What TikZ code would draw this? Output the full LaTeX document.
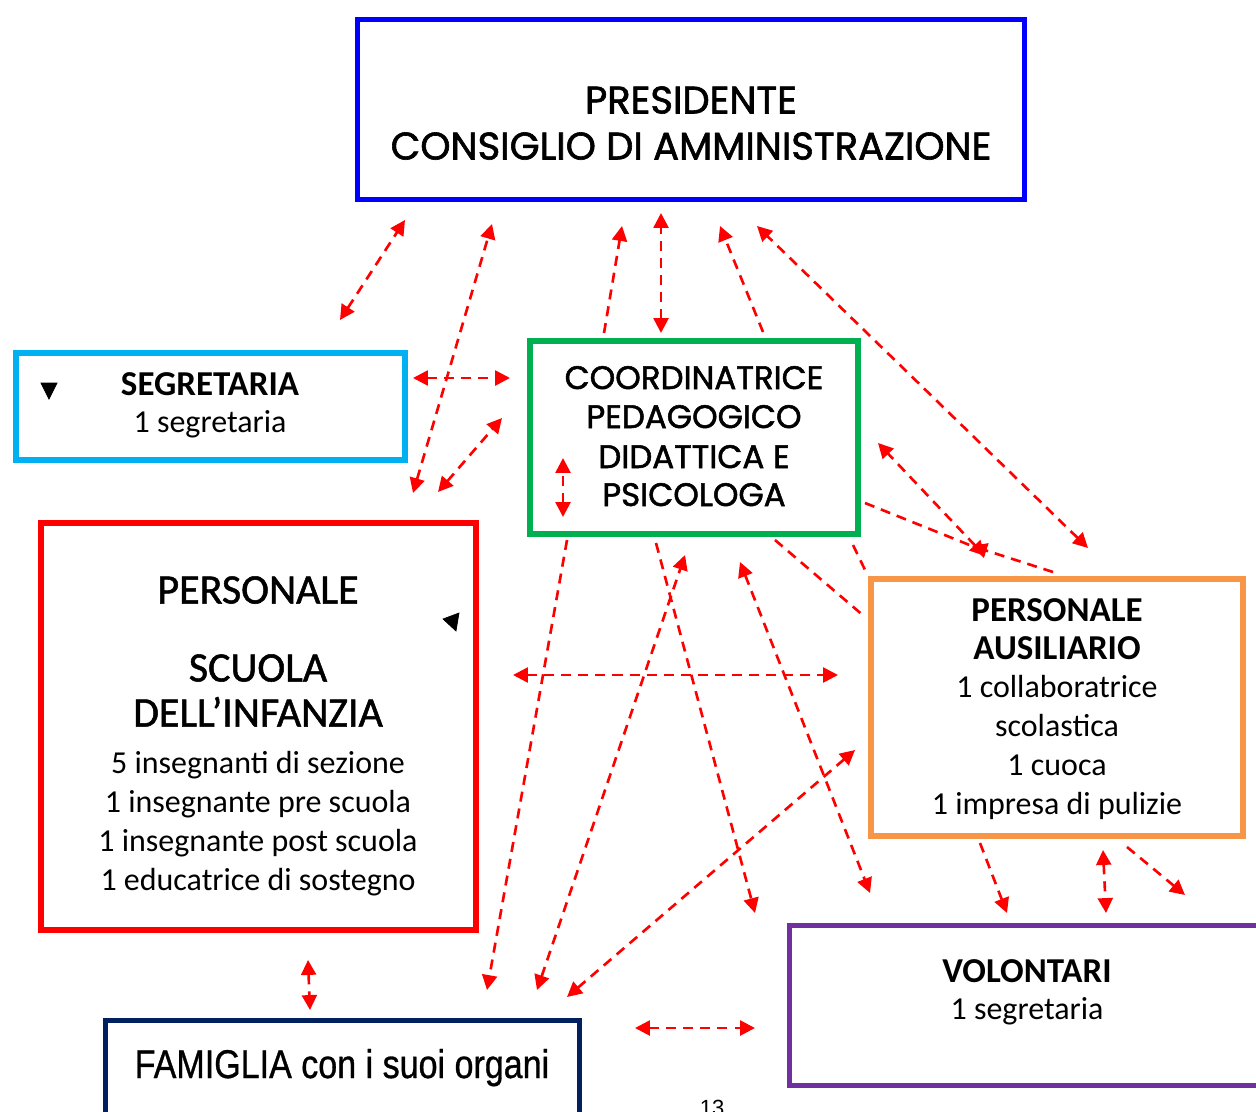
\documentclass[tikz,border=0pt]{standalone}
\usepackage{fontspec}
\setmainfont{Carlito}
\newfontfamily\gothic[FakeBold=1.6]{Poppins}
\newfontfamily\heavy[FakeBold=1.2]{Carlito}
\newfontfamily\narrow[FakeStretch=0.85,FakeBold=0.8]{Liberation Sans}
\newfontfamily\plainsans{Liberation Sans}
\usetikzlibrary{arrows.meta}

\definecolor{bluepres}{RGB}{0,0,255}
\definecolor{cyansegr}{RGB}{0,176,240}
\definecolor{greencoord}{RGB}{0,176,80}
\definecolor{redpers}{RGB}{255,0,0}
\definecolor{orangeausi}{RGB}{247,150,70}
\definecolor{purplevol}{RGB}{112,48,160}
\definecolor{navyfam}{RGB}{0,32,96}

\tikzset{
	box/.style={draw, line width=3.4pt, inner sep=0pt},
	link/.style={draw=red, line width=1.5pt, dash pattern=on 5.7pt off 4pt,
		>={Triangle[length=8.5pt,width=8.5pt]}},
	title/.style={font=\gothic\fontsize{21.9}{24}\selectfont, anchor=base},
	subtitle/.style={font=\gothic\fontsize{18.5}{21}\selectfont, anchor=base},
	head/.style={font=\heavy\fontsize{23.9}{28}\selectfont, anchor=base},
	boldhead/.style={font=\bfseries\fontsize{19.9}{24}\selectfont, anchor=base},
	body/.style={font=\fontsize{18.2}{22}\selectfont, anchor=base}
}

\begin{document}
\begin{tikzpicture}[x=0.02cm, y=-0.02cm]

	\useasboundingbox (0,0) rectangle (1256,1111);
	\clip (0,0) rectangle (1256,1111);

	\def\thin{2.9pt};

	% boxes
	\node[box, draw=bluepres, line width=\thin, minimum width=13.34cm, minimum height=3.6cm] (pres) at (691,109.5) {};
	\node[box, draw=cyansegr, minimum width=7.78cm, minimum height=2.14cm] (segr) at (210.5,406.5) {};
	\node[box, draw=greencoord, minimum width=6.56cm, minimum height=3.86cm] (coord) at (694,437.5) {};
	\node[box, draw=redpers, minimum width=8.7cm, minimum height=8.14cm] (pers) at (258.5,726.5) {};
	\node[box, draw=orangeausi, minimum width=7.44cm, minimum height=5.14cm] (ausi) at (1057,707.5) {};
	\node[box, draw=purplevol, line width=\thin, minimum width=9.62cm, minimum height=3.2cm] (vol) at (1030,1005.5) {};
	\node[box, draw=navyfam, line width=\thin, minimum width=9.48cm, minimum height=2.38cm] (fam) at (342.5,1080) {};

	% texts
	\foreach \t/\y [count=\i] in {PRESIDENTE/113.5, CONSIGLIO DI AMMINISTRAZIONE/159.5}
		\node[title] (pres-\i) at (691,\y) {\t};

	\foreach \t/\y [count=\i] in {COORDINATRICE/389, PEDAGOGICO/428, DIDATTICA E/468, PSICOLOGA/506}
		\node[subtitle] (coord-\i) at (694,\y) {\t};

	\node[boldhead] (segr-1) at (210,395) {SEGRETARIA};
	\node[body] (segr-2) at (210,432) {1 segretaria};

	\foreach \t/\y [count=\i] in {PERSONALE/603.5, SCUOLA/681.5, DELL’INFANZIA/726.5}
		\node[head] (pers-h\i) at (258,\y) {\t};
	\foreach \t/\y [count=\i] in {5 insegnanti di sezione/773, 1 insegnante pre scuola/812,
		1 insegnante post scuola/851, 1 educatrice di sostegno/890}
		\node[body] (pers-\i) at (258,\y) {\t};

	\foreach \t/\y [count=\i] in {PERSONALE/621, AUSILIARIO/659}
		\node[boldhead] (ausi-h\i) at (1057,\y) {\t};
	\foreach \t/\y [count=\i] in {1 collaboratrice/697, scolastica/736, 1 cuoca/775, 1 impresa di pulizie/814}
		\node[body] (ausi-\i) at (1057,\y) {\t};

	\node[boldhead] (vol-1) at (1027,982) {VOLONTARI};
	\node[body] (vol-2) at (1027,1019) {1 segretaria};

	\node[anchor=base, font=\narrow\fontsize{22.8}{26}\selectfont] (fam-1) at (342,1078) {FAMIGLIA con i suoi organi};

	\node[anchor=base, font=\plainsans\fontsize{12.5}{14}\selectfont] (pagenum) at (712,1115) {13};

	% small marks
	\filldraw[fill=black] (41,383) -- (57,383) -- (49,399) -- cycle;
	\filldraw[fill=black] (443,619) -- (459,613) -- (456,631) -- cycle;

	% arrow ends
	\coordinate (s1) at (340,320);   \coordinate (t1) at (405,220);
	\coordinate (s2) at (413,493);   \coordinate (t2) at (492,224);
	\coordinate (s3) at (604,333);   \coordinate (t3) at (622,226);
	\coordinate (s4) at (661,333);   \coordinate (t4) at (661,213);
	\coordinate (s5) at (763,332);   \coordinate (t5) at (720,226);
	\coordinate (s6) at (1088,548);  \coordinate (t6) at (757,226);
	\coordinate (s7) at (413,378);   \coordinate (t7) at (510,378);
	\coordinate (s8) at (438,492);   \coordinate (t8) at (502,418);
	\coordinate (s9) at (563,517);   \coordinate (t9) at (563,458);
	\coordinate (s10) at (985,556);  \coordinate (t10) at (878,443);
	\coordinate (s11) at (1053,572); \coordinate (t11) at (972,546);
	\coordinate (u11) at (865,503);
	\coordinate (s12) at (775,540);  \coordinate (t12) at (865,617);
	\coordinate (u12) at (853,545);  \coordinate (v12) at (866,572);
	\coordinate (s13) at (567,540);  \coordinate (t13) at (487,990);
	\coordinate (s14) at (537,990);  \coordinate (t14) at (685,555);
	\coordinate (s15) at (656,543);  \coordinate (t15) at (755,913);
	\coordinate (s16) at (740,562);  \coordinate (t16) at (870,893);
	\coordinate (s17) at (513,675);  \coordinate (t17) at (838,675);
	\coordinate (s18) at (567,997);  \coordinate (t18) at (855,750);
	\coordinate (s19) at (308,960);  \coordinate (t19) at (310,1010);
	\coordinate (s20) at (635,1028); \coordinate (t20) at (755,1028);
	\coordinate (s21) at (980,843);  \coordinate (t21) at (1007,913);
	\coordinate (s22) at (1103,850); \coordinate (t22) at (1106,913);
	\coordinate (s23) at (1127,847); \coordinate (t23) at (1185,895);

	% connectors
	\draw[link,<->] (s1) -- (t1);
	\draw[link,<->] (s2) -- (t2);
	\draw[link,->] (s3) -- (t3);
	\draw[link,<->] (s4) -- (t4);
	\draw[link,->] (s5) -- (t5);
	\draw[link,<->] (s6) -- (t6);
	\draw[link,<->] (s7) -- (t7);
	\draw[link,<->] (s8) -- (t8);
	\draw[link,<->] (s9) -- (t9);
	\draw[link,<->] (s10) -- (t10);
	\draw[link,->] (s11) -- (t11);
	\draw[link] (u11) -- (t11);
	\draw[link] (s12) -- (t12);
	\draw[link] (u12) -- (v12);
	\draw[link,->] (s13) -- (t13);
	\draw[link,<->] (s14) -- (t14);
	\draw[link,->] (s15) -- (t15);
	\draw[link,<->] (s16) -- (t16);
	\draw[link,<->] (s17) -- (t17);
	\draw[link,<->] (s18) -- (t18);
	\draw[link,<->] (s19) -- (t19);
	\draw[link,<->] (s20) -- (t20);
	\draw[link,->] (s21) -- (t21);
	\draw[link,<->] (s22) -- (t22);
	\draw[link,->] (s23) -- (t23);

\end{tikzpicture}
\end{document}
